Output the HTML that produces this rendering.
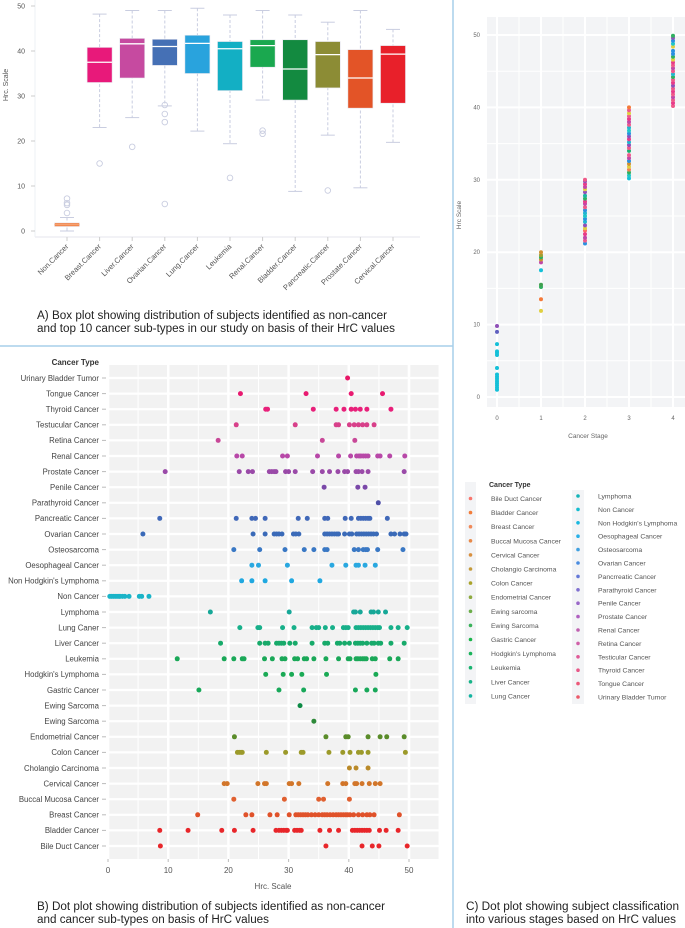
<!DOCTYPE html>
<html><head><meta charset="utf-8">
<style>
html,body{margin:0;padding:0;background:#fff;}
svg{display:block;font-family:"Liberation Sans",sans-serif;}
</style></head>
<body>
<svg id="fig" width="685" height="928" viewBox="0 0 685 928">
  <line x1="453" y1="0" x2="453" y2="928" stroke="#a7cfea" stroke-width="1.5"/>
  <line x1="0" y1="346" x2="453" y2="346" stroke="#a7cfea" stroke-width="1.5"/>
  <g id="boxA"></g>
  <g id="dotB"></g>
  <g id="stageC"></g>
  <g id="legendC"></g>
  <text x="37" y="319" font-size="11.5" fill="#222" textLength="350" lengthAdjust="spacingAndGlyphs">A) Box plot showing distribution of subjects identified as non-cancer</text>
  <text x="37" y="332" font-size="11.5" fill="#222" textLength="358" lengthAdjust="spacingAndGlyphs">and top 10 cancer sub-types in our study on basis of their HrC values</text>
  <text x="37" y="910" font-size="11.5" fill="#222" textLength="348" lengthAdjust="spacingAndGlyphs">B) Dot plot showing distribution of subjects identified as non-cancer</text>
  <text x="37" y="923" font-size="11.5" fill="#222" textLength="232" lengthAdjust="spacingAndGlyphs">and cancer sub-types on basis of HrC values</text>
  <text x="466" y="910" font-size="11.5" fill="#222" textLength="213" lengthAdjust="spacingAndGlyphs">C) Dot plot showing subject classification</text>
  <text x="466" y="923" font-size="11.5" fill="#222" textLength="210" lengthAdjust="spacingAndGlyphs">into various stages based on HrC values</text>
</svg>
<script>
// ---------- Panel A data ----------
const boxCats = ["Non.Cancer","Breast.Cancer","Liver.Cancer","Ovarian.Cancer","Lung.Cancer","Leukemia","Renal.Cancer","Bladder.Cancer","Pancreatic.Cancer","Prostate.Cancer","Cervical.Cancer"];
const boxLow = [0,23,25.2,27.8,22.2,19.4,29.1,8.8,21.3,9.6,19.7];
const boxQ1 = [1,33,34,36.8,35,31.2,36.4,29.1,31.8,27.3,28.4];
const boxMed = [1.4,37.5,41.6,41,41.7,40.5,41.2,36,39.2,34,39.3];
const boxQ3 = [1.8,40.8,42.8,42.6,43.5,42.1,42.5,42.5,42.1,40.3,41.2];
const boxHigh = [3,48.2,49,49,49.5,48,49,48,46.4,49,44.8];
const boxOut = [[7.2,6.2,5.8,4],[15],[18.7],[28,26,24.2,6],[],[11.8],[22.3,21.6],[],[9],[],[]];
const boxColors = ["#f07a3a","#e8197a","#c64aa0","#4570b5","#29a3dd","#13afc4","#1aa84f","#138a40","#8c8c35","#e35427","#e8202a"];
const boxTicks = [0,10,20,30,40,50];

// ---------- Panel B data ----------
const dotCats = ["Urinary Bladder Tumor","Tongue Cancer","Thyroid Cancer","Testucular Cancer","Retina Cancer","Renal Cancer","Prostate Cancer","Penile Cancer","Parathyroid Cancer","Pancreatic Cancer","Ovarian Cancer","Osteosarcoma","Oesophageal Cancer","Non Hodgkin's Lymphoma","Non Cancer","Lymphoma","Lung Caner","Liver Cancer","Leukemia","Hodgkin's Lymphoma","Gastric Cancer","Ewing Sarcoma","Ewing Sarcoma","Endometrial Cancer","Colon Cancer","Cholangio Carcinoma","Cervical Cancer","Buccal Mucosa Cancer","Breast Cancer","Bladder Cancer","Bile Duct Cancer"];
const dotColors = ["#e81868","#e81a70","#e8207a","#d8408a","#c84898","#b848a8","#9a4aa8","#7a48a8","#5050a8","#4068b8","#3a6ab8","#3a78c4","#2aa8e0","#20a8e0","#1ab4c8","#17a898","#18b08a","#17aa6a","#1aa858","#1aaa55","#19a85a","#0d8a45","#2f8a3a","#5a8c2a","#9c9a2a","#b98a2a","#d2762a","#e06030","#e0522a","#e8262a","#e8262a"];
const dotVals = [
 [39.8],
 [22,32.9,40.4,45.6],
 [26.2,26.5,34.1,37.9,39.2,40.4,41.1,41.9,43,47],
 [21.3,31.1,37.9,38.3,40.1,40.9,41.6,42.3,43,44.2],
 [18.3,35.6,41],
 [21.4,22.3,29,29.8,34.8,38.3,40.3,41.3,41.7,42,42.4,42.8,43.2,44.8,45.2,46.8,49.3],
 [9.5,21.8,23.3,24,26.8,27.2,27.6,27.9,29.5,30,31.1,34,35.6,36.8,38.2,39.3,39.8,41.2,41.6,42.2,43.2,49.2],
 [35.9,41.5,42.7],
 [44.9],
 [8.6,21.3,23.9,24.5,26.1,31.6,33.1,36,36.5,39.4,40.4,41.6,42,42.4,42.8,43.2,43.5,46.4],
 [5.8,24.1,26.1,27.6,28,28.4,28.9,30.8,31.2,31.7,36,36.4,36.8,37.2,37.6,38,38.3,39.3,40.1,40.5,41.3,41.7,42.1,42.5,42.9,43.3,43.7,44.1,44.6,47,47.6,48.5,49.2,49.5],
 [20.9,25.2,29.4,32.6,34.2,36,36.4,40.9,41.6,42.4,42.8,43.1,44.8,49],
 [23.9,25,29.8,37.2,39.5,41.2,41.6,42.7,44.4],
 [22.2,23.9,26.1,30.5,35.2],
 [0.3,0.6,0.9,1.2,1.5,1.8,2,2.4,2.8,3.5,5.2,5.6,6.8],
 [17,30.1,40.8,41.1,41.9,43.7,44.1,44.9,46.1],
 [21.9,24.9,25.2,29,30.9,33.9,34.6,35,36.1,37.3,39.1,39.5,39.9,41.2,41.6,42,42.4,42.8,43.2,43.6,44,44.4,44.8,45.1,47,48.2,49.7],
 [18.7,25.2,26.1,26.6,28,28.4,28.8,29.2,30.2,31.1,33.9,36,36.5,38.1,38.5,39.3,40.1,41.1,41.5,41.9,42.3,43,43.8,44.2,44.9,45.3,47,49.2],
 [11.5,19.3,20.9,22.3,22.6,26,27.3,28.9,29.4,31,31.5,32.6,33,34.2,36.2,38.3,39.9,40.2,41.2,41.5,41.9,42.3,42.6,42.9,43.9,44.4,46.8,48.2],
 [26.2,29.1,30.5,32.2,36.3,44.5],
 [15.1,28.4,32.5,41.1,43,44.4],
 [31.9],
 [34.2],
 [21,36.2,39.5,39.9,43.2,45.2,46.3,49.2],
 [21.5,21.8,22.1,22.3,26.3,29.5,32.1,32.4,36.7,39,40.2,41.6,42.1,43.2,49.4],
 [40.1,41.2,43.2],
 [19.3,19.8,24.9,26,26.3,30.1,30.5,31.7,36.5,39,39.5,41,41.3,42.2,43.4,44.4,45.2],
 [20.9,29.3,35,35.8,40.1],
 [14.9,22.9,23.9,26.9,28.1,30.1,31.2,31.6,32,32.4,32.8,33.2,33.8,34.4,35,35.6,36,36.4,36.9,37.4,37.9,38.3,38.7,39.1,39.5,39.8,40.2,40.8,41.6,42.3,43,43.5,44.2,48.4],
 [8.6,13.3,18.9,21,24.1,27.9,28.4,28.8,29.2,29.6,29.8,31,31.4,31.8,32.1,35.2,36.8,38.3,40.6,41,41.4,41.8,42.2,42.6,43,43.4,45.1,46.2,48.2],
 [8.7,36.2,42.2,43.9,45,49.7]
];
const dotTicks = [0,10,20,30,40,50];

// ---------- Panel C data ----------
const stageTicksX = [0,1,2,3,4];
const stageTicksY = [0,10,20,30,40,50];
const stage0 = [1,1.3,1.6,1.9,2.2,2.5,2.8,3.1,4,5.8,6.1,6.3,7.3,9,9.8];
const stage0Col = [14,14,14,14,14,14,14,14,14,14,14,14,14,9,6];
const stage1 = [11.9,13.5,15.2,15.5,17.5,18.6,19,19.3,19.6,20];
const stage1Col = [18,1,17,20,14,5,19,17,24,26];
const stage2 = [21.2,21.6,22,22.5,23,23.3,23.7,24.2,24.6,25,25.4,25.8,26.2,26.7,27,27.4,27.8,28.3,28.7,29,29.4,29.8,30];
const stage2Col = [11,2,5,3,28,18,6,10,11,12,10,11,2,5,3,17,16,6,18,5,3,6,2];
const stage3 = [30.2,30.6,31,31.4,31.8,32.2,32.6,33,33.4,34,34.4,34.8,35.2,35.6,36,36.4,36.8,37.2,37.6,38,38.4,38.8,39.2,39.6,40];
const stage3Col = [14,12,17,27,18,26,11,5,2,15,2,6,10,3,6,11,12,10,2,5,3,2,18,2,1];
const stage4 = [40.2,40.6,41,41.4,41.8,42.2,42.6,43,43.4,43.8,44.2,44.6,45,45.4,45.8,46.2,46.6,47,47.4,47.8,48.4,48.8,49.2,49.6,49.9];
const stage4Col = [2,3,2,5,2,3,2,6,3,2,17,10,2,5,2,3,18,17,11,11,18,12,11,6,17];
const stageVals = [stage0,stage1,stage2,stage3,stage4];
const stageCols = [stage0Col,stage1Col,stage2Col,stage3Col,stage4Col];
const legendNames = ["Bile Duct Cancer","Bladder Cancer","Breast Cancer","Buccal Mucosa Cancer","Cervical Cancer","Cholangio Carcinoma","Colon Cancer","Endometrial Cancer","Ewing sarcoma","Ewing Sarcoma","Gastric Cancer","Hodgkin's Lymphoma","Leukemia","Liver Cancer","Lung Cancer","Lymphoma","Non Cancer","Non Hodgkin's Lymphoma","Oesophageal Cancer","Osteosarcoma","Ovarian Cancer","Pancrreatic Cancer","Parathyroid Cancer","Penile Cancer","Prostate Cancer","Renal Cancer","Retina Cancer","Testicular Cancer","Thyroid Cancer","Tongue Cancer","Urinary Bladder Tumor"];
const legendCols = ["#f8766d","#f27d3a","#f08a5a","#e88a4a","#d89040","#c49a3a","#aaa32a","#8eaa40","#6cae4a","#3ab25a","#1ab44a","#1ab45a","#1ab470","#18b488","#14b4a0","#14b4b8","#14bcd0","#18b8e0","#28b0e8","#40a0e0","#4a8ce0","#6478d8","#8070d0","#9a68c8","#b060c0","#c060b0","#d060a8","#e05a98","#e85888","#ec5878","#ec5a6a"];
const stagePalette = ["#ff6464","#f47a3a","#ee5a8a","#e83a8a","#2a9ee8","#c048a8","#9050b8","#5a70c8","#4080d8","#6060c0","#20b8d0","#2a90e0","#20c8c8","#14bcd0","#14c0d8","#18b070","#1ab4a0","#30b060","#e0d040","#c89030","#40a050","#80a030","#90a040","#d08040","#a0a030","#3aa860","#d09030","#f08050"];

const NS = "http://www.w3.org/2000/svg";
function mk(tag, attrs, parent) {
  const e = document.createElementNS(NS, tag);
  for (const k in attrs) e.setAttribute(k, attrs[k]);
  parent.appendChild(e);
  return e;
}

// ---------- Draw A ----------
(function(){
  const g = document.getElementById('boxA');
  const yA = v => 231 - v * 4.5;
  const xA = i => 67 + i * 32.6;
  mk('line', {x1:35,y1:237,x2:420,y2:237,stroke:'#e4e6ee','stroke-width':1}, g);
  mk('line', {x1:35,y1:0,x2:35,y2:237,stroke:'#eef0f4','stroke-width':1}, g);
  boxTicks.forEach(t => {
    const tx = mk('text', {x:25,y:yA(t)+2.5,'font-size':7,'text-anchor':'end',fill:'#555'}, g);
    tx.textContent = t;
    
    
    mk('line', {x1:31,y1:yA(t),x2:35,y2:yA(t),stroke:'#ccc'}, g);
  });
  const yt = mk('text', {x:0,y:0,'font-size':7,fill:'#555','text-anchor':'middle',transform:'translate(8,85) rotate(-90)'}, g);
  yt.textContent = 'Hrc. Scale';
  
  
  boxCats.forEach((c, i) => {
    const x = xA(i), w = 25;
    const bg = mk('g', {}, g);
    
    
    mk('line', {x1:x,y1:yA(boxHigh[i]),x2:x,y2:yA(boxLow[i]),stroke:'#c9cde0','stroke-dasharray':'3,2'}, bg);
    mk('line', {x1:x-7,y1:yA(boxHigh[i]),x2:x+7,y2:yA(boxHigh[i]),stroke:'#c9cde0'}, bg);
    mk('line', {x1:x-7,y1:yA(boxLow[i]),x2:x+7,y2:yA(boxLow[i]),stroke:'#c9cde0'}, bg);
    mk('rect', {x:x-w/2,y:yA(boxQ3[i]),width:w,height:Math.max(2.5,yA(boxQ1[i])-yA(boxQ3[i])),fill:boxColors[i],stroke:'#e6e6ee','stroke-width':0.6}, bg);
    mk('line', {x1:x-w/2,y1:yA(boxMed[i]),x2:x+w/2,y2:yA(boxMed[i]),stroke:i===0?'#f6a070':'#fff','stroke-width':1.3}, bg);
    boxOut[i].forEach(o => mk('circle', {cx:x,cy:yA(o),r:2.8,fill:'none',stroke:'#c9cde0','stroke-width':0.9}, bg));
    mk('line', {x1:x,y1:237,x2:x,y2:241,stroke:'#ccc'}, g);
    const lt = mk('text', {x:0,y:0,'font-size':7.5,fill:'#555','text-anchor':'end',transform:`translate(${x+2},${247}) rotate(-45)`}, g);
    lt.textContent = c;
    
    
  });
})();

// ---------- Draw B ----------
(function(){
  const g = document.getElementById('dotB');
  const xB = v => 108 + v * 6.02;
  const yB = i => 378 + i * 15.6;
  const top = 365, bot = 859, left = 107, right = 439;
  mk('rect', {x:left,y:top,width:right-left,height:bot-top,fill:'#f2f2f2'}, g);
  for (let v = 5; v <= 55; v += 10) mk('line', {x1:xB(v),y1:top,x2:xB(v),y2:bot,stroke:'#fff','stroke-width':1}, g);
  dotTicks.forEach(v => mk('line', {x1:xB(v),y1:top,x2:xB(v),y2:bot,stroke:'#fff','stroke-width':2.5}, g));
  dotCats.forEach((c, i) => {
    mk('line', {x1:left,y1:yB(i),x2:right,y2:yB(i),stroke:'#fff','stroke-width':2.2}, g);
    mk('line', {x1:102,y1:yB(i),x2:106,y2:yB(i),stroke:'#bbb'}, g);
    const t = mk('text', {x:99,y:yB(i)+2.8,'font-size':7.8,'text-anchor':'end',fill:'#444'}, g);
    t.textContent = c;
    
    
  });
  dotCats.forEach((c, i) => {
    dotVals[i].forEach(v => {
      const d = mk('circle', {cx:xB(v),cy:yB(i),r:2.5,fill:dotColors[i]}, g);
      
      
    });
  });
  const tt = mk('text', {x:99,y:365,'font-size':8,'font-weight':'bold','text-anchor':'end',fill:'#333'}, g);
  tt.textContent = 'Cancer Type';
  
  
  dotTicks.forEach(v => {
    mk('line', {x1:xB(v),y1:bot,x2:xB(v),y2:bot+3,stroke:'#bbb'}, g);
    const t = mk('text', {x:xB(v),y:873,'font-size':8,'text-anchor':'middle',fill:'#555'}, g);
    t.textContent = v;
    
    
  });
  const xt = mk('text', {x:273,y:889,'font-size':8,'text-anchor':'middle',fill:'#555'}, g);
  xt.textContent = 'Hrc. Scale';
  
  
})();

// ---------- Draw C ----------
(function(){
  const g = document.getElementById('stageC');
  const xC = s => 497 + s * 44;
  const yC = v => 397 - v * 7.24;
  const top = 17, bot = 407, left = 487, right = 685;
  mk('rect', {x:left,y:top,width:right-left,height:bot-top,fill:'#f3f4f6'}, g);
  for (let v = 5; v <= 50; v += 10) mk('line', {x1:left,y1:yC(v),x2:right,y2:yC(v),stroke:'#fff','stroke-width':1}, g);
  for (let s = 0.5; s <= 4.5; s += 1) mk('line', {x1:xC(s),y1:top,x2:xC(s),y2:bot,stroke:'#fff','stroke-width':1}, g);
  stageTicksY.forEach(v => {
    mk('line', {x1:left,y1:yC(v),x2:right,y2:yC(v),stroke:'#fff','stroke-width':2}, g);
    const t = mk('text', {x:480,y:yC(v)+2,'font-size':6,'text-anchor':'end',fill:'#666'}, g);
    t.textContent = v;
    
    
  });
  stageTicksX.forEach(s => {
    mk('line', {x1:xC(s),y1:top,x2:xC(s),y2:bot,stroke:'#fff','stroke-width':2}, g);
    const t = mk('text', {x:xC(s),y:420,'font-size':6,'text-anchor':'middle',fill:'#666'}, g);
    t.textContent = s;
    
    
  });
  stageVals.forEach((arr, s) => {
    arr.forEach((v, k) => {
      const d = mk('circle', {cx:xC(s),cy:yC(v),r:2,fill:stagePalette[stageCols[s][k] % stagePalette.length]}, g);
      
      
    });
  });
  const xt = mk('text', {x:588,y:438,'font-size':6.5,'text-anchor':'middle',fill:'#666'}, g);
  xt.textContent = 'Cancer Stage';
  
  
  const yt = mk('text', {x:0,y:0,'font-size':6.5,'text-anchor':'middle',fill:'#666',transform:'translate(461,215) rotate(-90)'}, g);
  yt.textContent = 'Hrc Scale';
  
  

  // legend
  const L = document.getElementById('legendC');
  mk('rect', {x:465,y:482,width:11,height:222,fill:'#f3f4f6'}, L);
  mk('rect', {x:572,y:490,width:12,height:214,fill:'#f3f4f6'}, L);
  const lt = mk('text', {x:489,y:487,'font-size':7,'font-weight':'bold',fill:'#333'}, L);
  lt.textContent = 'Cancer Type';
  
  
  legendNames.forEach((n, i) => {
    let cx, ty, tx;
    if (i < 15) { cx = 470.5; ty = 498.5 + i * 14.1; tx = 491; }
    else { cx = 578; ty = 496 + (i - 15) * 13.4; tx = 598; }
    const e = mk('g', {}, L);
    
    
    mk('circle', {cx:cx,cy:ty,r:1.8,fill:legendCols[i]}, e);
    const t = mk('text', {x:tx,y:ty+2.5,'font-size':6.8,fill:'#555'}, e);
    t.textContent = n;
  });
})();
</script>
</body></html>
